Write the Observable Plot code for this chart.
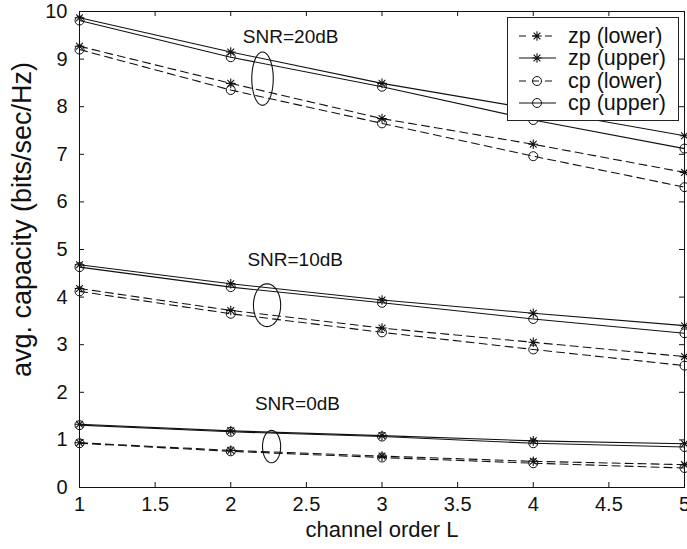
<!DOCTYPE html>
<html>
<head>
<meta charset="utf-8">
<script src="https://cdn.jsdelivr.net/npm/d3@7"></script>
<script src="https://cdn.jsdelivr.net/npm/@observablehq/plot@0.6"></script>
<style>
  html, body { margin: 0; padding: 0; background: #fff; }
  #wrap { position: relative; width: 687px; height: 549px; font-family: "Liberation Sans", Arial, sans-serif; }
  #legend { position: absolute; left: 507px; top: 17px; width: 172px; height: 104px; background: #fff; border: 1px solid #222; box-sizing: border-box; }
  #legend .row { position: absolute; left: 0; height: 22px; display: flex; align-items: center; }
  #legend .row span { font-size: 21.5px; line-height: 22px; height: 22px; color: #111; margin-left: 10px; white-space: nowrap; }
</style>
</head>
<body>
<div id="wrap"><div id="legend"></div></div>
<script>
// ---- data ----
const L = [1, 2, 3, 4, 5];
const zpUpper20 = [9.87, 9.15, 8.49, 7.95, 7.39];
const cpUpper20 = [9.81, 9.04, 8.42, 7.72, 7.12];
const zpLower20 = [9.27, 8.49, 7.75, 7.21, 6.62];
const cpLower20 = [9.20, 8.35, 7.65, 6.96, 6.31];
const zpUpper10 = [4.68, 4.28, 3.94, 3.66, 3.40];
const cpUpper10 = [4.63, 4.21, 3.88, 3.54, 3.24];
const zpLower10 = [4.18, 3.72, 3.35, 3.05, 2.75];
const cpLower10 = [4.12, 3.65, 3.26, 2.90, 2.56];
const zpUpper0 = [1.33, 1.19, 1.09, 0.98, 0.92];
const cpUpper0 = [1.31, 1.17, 1.07, 0.93, 0.85];
const zpLower0 = [0.94, 0.78, 0.66, 0.55, 0.48];
const cpLower0 = [0.93, 0.76, 0.63, 0.51, 0.41];

const seriesNames = ["zp (lower)", "zp (upper)", "cp (lower)", "cp (upper)"];
const xTicks = [1, 1.5, 2, 2.5, 3, 3.5, 4, 4.5, 5];
const yTicks = [0, 1, 2, 3, 4, 5, 6, 7, 8, 9, 10];
const xLabel = "channel order L";
const yLabel = "avg. capacity (bits/sec/Hz)";

const snrLabels = ["SNR=20dB", "SNR=10dB", "SNR=0dB"];
const snrLabelX = [2.08, 2.11, 2.16];
const snrLabelY = [9.47, 4.78, 1.76];
const ellCx = [2.21, 2.24, 2.27];
const ellCy = [8.59, 3.83, 0.86];
const ellRx = [0.071, 0.090, 0.060];
const ellRy = [0.56, 0.45, 0.34];

// ---- build table ----
const groups = [
  {snr: 20, s: {"zp (lower)": zpLower20, "zp (upper)": zpUpper20, "cp (lower)": cpLower20, "cp (upper)": cpUpper20}},
  {snr: 10, s: {"zp (lower)": zpLower10, "zp (upper)": zpUpper10, "cp (lower)": cpLower10, "cp (upper)": cpUpper10}},
  {snr: 0, s: {"zp (lower)": zpLower0, "zp (upper)": zpUpper0, "cp (lower)": cpLower0, "cp (upper)": cpUpper0}}
];
const rows = [];
for (const g of groups) for (const name of seriesNames) g.s[name].forEach((v, i) => rows.push({key: g.snr + name, name, L: L[i], v}));

const ellPts = [];
ellCx.forEach((cx, k) => { for (let i = 0; i <= 72; i++) { const t = i / 72 * 2 * Math.PI; ellPts.push({k, x: cx + ellRx[k] * Math.cos(t), y: ellCy[k] + ellRy[k] * Math.sin(t)}); } });

const asterisk = {
  draw(ctx, size) {
    const r = Math.sqrt(size / Math.PI);
    const d = r * Math.SQRT1_2;
    ctx.moveTo(-r, 0); ctx.lineTo(r, 0);
    ctx.moveTo(0, -r); ctx.lineTo(0, r);
    ctx.moveTo(-d, -d); ctx.lineTo(d, d);
    ctx.moveTo(-d, d); ctx.lineTo(d, -d);
  }
};

const W = 687, H = 549, mt = 11, mb = 62, ml = 79, mr = 3;
const ky = (H - mt - mb) / 10, kx = (W - ml - mr) / 4;
const tl = 5;
const ink = "#111";
const isDash = n => n.includes("lower");

const chart = Plot.plot({
  width: W, height: H,
  marginTop: mt, marginBottom: mb, marginLeft: ml, marginRight: mr,
  style: {fontFamily: "'Liberation Sans', Arial, sans-serif", background: "#fff", color: ink},
  x: {domain: [1, 5]},
  y: {domain: [0, 10]},
  marks: [
    Plot.line(rows.filter(d => !isDash(d.name)), {x: "L", y: "v", z: "key", stroke: ink, strokeWidth: 1.1}),
    Plot.line(rows.filter(d => isDash(d.name)), {x: "L", y: "v", z: "key", stroke: ink, strokeWidth: 1.1, strokeDasharray: "8,5"}),
    Plot.dot(rows.filter(d => d.name.startsWith("zp")), {x: "L", y: "v", symbol: asterisk, r: 4.8, stroke: ink, strokeWidth: 1.1, fill: "none"}),
    Plot.dot(rows.filter(d => d.name.startsWith("cp")), {x: "L", y: "v", symbol: "circle", r: 4.5, stroke: ink, strokeWidth: 1, fill: "none"}),
    Plot.line(ellPts, {x: "x", y: "y", z: "k", stroke: ink, strokeWidth: 1.1}),
    Plot.text(snrLabels, {x: (d, i) => snrLabelX[i], y: (d, i) => snrLabelY[i], text: d => d, textAnchor: "start", fontSize: 19, fill: ink}),
    // inward ticks
    Plot.ruleX(xTicks, {x: d => d, y1: 0, y2: tl / ky, stroke: ink}),
    Plot.ruleX(xTicks, {x: d => d, y1: 10, y2: 10 - tl / ky, stroke: ink}),
    Plot.ruleY(yTicks, {y: d => d, x1: 1, x2: 1 + tl / kx, stroke: ink}),
    Plot.ruleY(yTicks, {y: d => d, x1: 5, x2: 5 - tl / kx, stroke: ink}),
    Plot.frame({stroke: ink}),
    Plot.axisX({ticks: xTicks, tickSize: 0, tickPadding: 9, fontSize: 20, label: null, tickFormat: d => String(d)}),
    Plot.axisY({ticks: yTicks, tickSize: 0, tickPadding: 12, fontSize: 20, label: null}),
    Plot.text([xLabel], {frameAnchor: "bottom", textAnchor: "middle", dy: 42, fontSize: 22, fill: ink, lineAnchor: "middle"}),
    Plot.text([yLabel], {frameAnchor: "left", textAnchor: "middle", lineAnchor: "middle", rotate: -90, dx: -57, dy: -30, fontSize: 27, fill: ink})
  ]
});
document.getElementById("wrap").prepend(chart);

// ---- legend ----
const leg = document.getElementById("legend");
const rowTops = [6.5, 29, 51.5, 74];
seriesNames.forEach((name, i) => {
  const row = document.createElement("div");
  row.className = "row";
  row.style.top = rowTops[i] + "px";
  const dash = isDash(name) ? 'stroke-dasharray="7,6"' : "";
  const c = 29, cy = 11;
  const mk = name.startsWith("zp")
    ? `<path d="M${c-4.8},${cy}H${c+4.8}M${c},${cy-4.8}V${cy+4.8}M${c-3.4},${cy-3.4}L${c+3.4},${cy+3.4}M${c-3.4},${cy+3.4}L${c+3.4},${cy-3.4}" stroke="${ink}" stroke-width="1.1"/>`
    : `<circle cx="${c}" cy="${cy}" r="4.5" fill="none" stroke="${ink}"/>`;
  row.innerHTML = `<svg width="50" height="22"><line x1="11" x2="48" y1="${cy}" y2="${cy}" stroke="${ink}" stroke-width="1.1" ${dash}/>${mk}</svg><span>${name}</span>`;
  leg.appendChild(row);
});
</script>
</body>
</html>
